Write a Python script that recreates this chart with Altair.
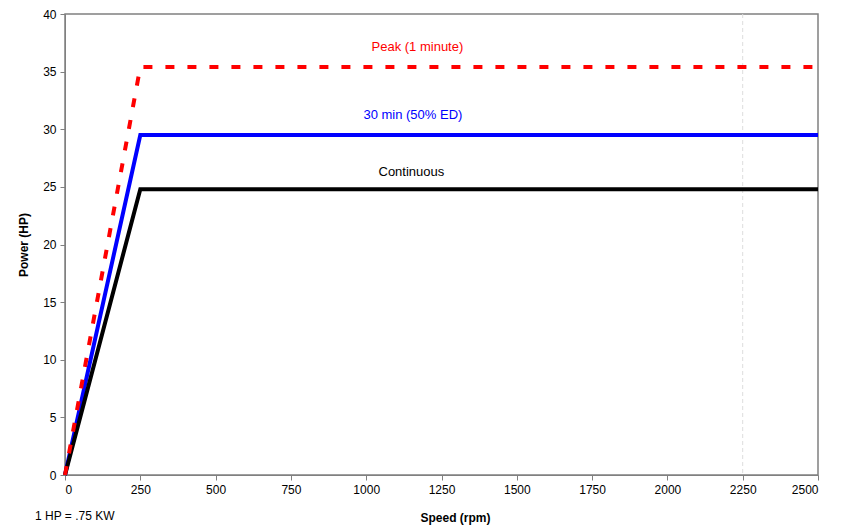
import altair as alt
import pandas as pd

speed = [0, 250, 2500]
peak = [0, 35.4, 35.4]
min30 = [0, 29.5, 29.5]
cont = [0, 24.8, 24.8]

series_names = ["Peak (1 minute)", "30 min (50% ED)", "Continuous"]
series_colors = ["#ff0000", "#0000ff", "#000000"]

rows = []
for name, vals in zip(series_names, [peak, min30, cont]):
    for s, v in zip(speed, vals):
        rows.append({"speed": s, "power": v, "series": name})
df = pd.DataFrame(rows)

label_x = [1170, 1155, 1150]
label_y = [37.1, 31.2, 26.3]
labels = pd.DataFrame({"x": label_x, "y": label_y, "series": series_names})

x_enc = alt.X("speed:Q", scale=alt.Scale(domain=[0, 2500], nice=False),
              axis=alt.Axis(values=list(range(0, 2501, 250)), format="d", grid=False, title="Speed (rpm)",
                            titleFontWeight="bold", titleFontSize=12, titleFont="Liberation Sans",
                            labelFont="Liberation Sans", labelFontSize=12, labelColor="#000",
                            titleColor="#000", domainColor="#808080", tickColor="#808080",
                            tickSize=5, labelPadding=4, titlePadding=17, titleX=390))
y_enc = alt.Y("power:Q", scale=alt.Scale(domain=[0, 40], nice=False),
              axis=alt.Axis(values=list(range(0, 41, 5)), format="d", grid=False, title="Power (HP)",
                            titleFontWeight="bold", titleFontSize=12, titleFont="Liberation Sans",
                            labelFont="Liberation Sans", labelFontSize=12, labelColor="#000",
                            titleColor="#000", domainColor="#808080", tickColor="#808080",
                            tickSize=5, labelPadding=4, titlePadding=12))

color_scale = alt.Scale(domain=series_names, range=series_colors)

grid2250 = alt.Chart(pd.DataFrame({"speed": [2250]})).mark_rule(
    color="#dddddd", strokeDash=[4, 3], strokeWidth=1
).encode(x=alt.X("speed:Q", scale=alt.Scale(domain=[0, 2500], nice=False)))

solid = alt.Chart(df[df.series != "Peak (1 minute)"]).mark_line(strokeWidth=4, strokeCap="butt").encode(
    x=x_enc, y=y_enc,
    color=alt.Color("series:N", scale=color_scale, legend=None),
    detail="series:N",
)

dashed = alt.Chart(df[df.series == "Peak (1 minute)"]).mark_line(
    strokeWidth=4, strokeDash=[9, 13], strokeCap="butt"
).encode(
    x=alt.X("speed:Q"), y=alt.Y("power:Q"),
    color=alt.Color("series:N", scale=color_scale, legend=None),
)

text = alt.Chart(labels).mark_text(fontSize=13, font="Liberation Sans").encode(
    x="x:Q", y="y:Q",
    text="series:N",
    color=alt.Color("series:N", scale=color_scale, legend=None),
)

note = alt.Chart(pd.DataFrame({"t": ["1 HP = .75 KW"]})).mark_text(
    align="left", baseline="middle", fontSize=12, font="Liberation Sans", color="#000"
).encode(x=alt.value(-30), y=alt.value(502), text="t:N")

chart = alt.layer(grid2250, solid, dashed, text, note).properties(
    width=753, height=461,
    autosize=alt.AutoSizeParams(type="none"),
    padding={"left": 57, "top": 6, "right": 22, "bottom": 53},
).configure_view(stroke="#808080", strokeWidth=1.5)

chart.save("out.html", embed_options={"renderer": "svg", "actions": False})
